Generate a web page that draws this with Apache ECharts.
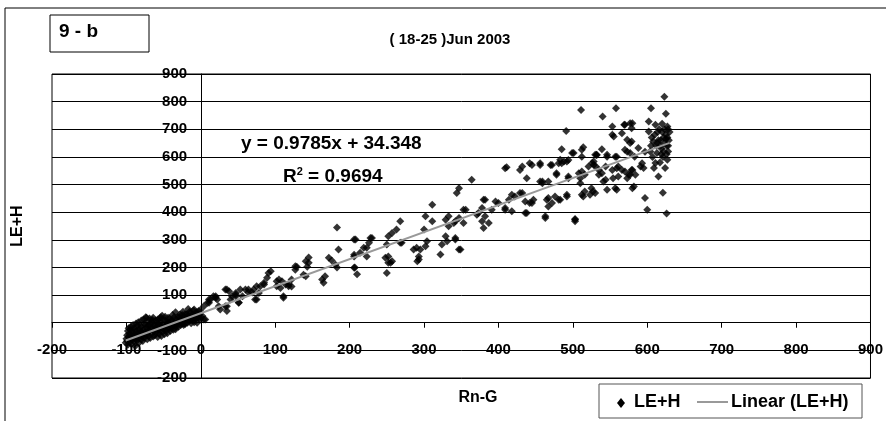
<!DOCTYPE html>
<html>
<head>
<meta charset="utf-8">
<script src="https://cdn.jsdelivr.net/npm/echarts@6/dist/echarts.min.js"></script>
<style>
  html, body { margin: 0; padding: 0; background: #fff; }
  #chart { width: 886px; height: 421px; }
</style>
</head>
<body>
<div id="chart"></div>
<script>
// Rn-G (x) against LE+H (y), W/m2, 18-25 June 2003
const samples = [
  // night-time cluster
  [-101,-72],[-100,-58],[-99,-45],[-99,-66],[-98,-30],[-98,-80],[-97,-52],[-96,-62],[-96,-40],[-95,-70],
  [-95,-25],[-94,-55],[-93,-45],[-93,-78],[-92,-35],[-92,-60],[-91,-50],[-90,-68],[-90,-20],[-89,-42],
  [-88,-58],[-88,-84],[-87,-30],[-86,-50],[-86,-65],[-85,-10],[-85,-40],[-84,-55],[-83,-25],[-83,-72],
  [-82,-45],[-81,-35],[-80,-60],[-80,-15],[-79,-50],[-78,-28],[-78,-66],[-77,-40],[-76,-5],[-76,-55],
  [-75,-32],[-74,20],[-74,-45],[-73,-18],[-72,-60],[-72,-38],[-71,-25],[-70,-48],[-70,5],[-69,-30],
  [-68,-55],[-67,-15],[-66,-40],[-66,-22],[-65,10],[-64,-50],[-63,-30],[-62,-8],[-62,-45],[-61,-20],
  [-60,-35],[-59,0],[-58,-52],[-58,-25],[-57,-10],[-56,-40],[-55,15],[-55,-30],[-54,-18],[-53,-48],
  [-52,25],[-52,-5],[-51,-32],[-50,-20],[-49,-42],[-48,8],[-47,-12],[-46,-28],[-45,-2],[-45,-38],
  [-44,18],[-43,-20],[-42,-8],[-41,-30],[-40,5],[-39,-15],[-38,28],[-37,-25],[-36,0],[-35,-10],
  [-34,38],[-34,-24],[-33,12],[-32,-5],[-31,20],[-30,-15],[-29,5],[-28,30],[-27,-8],[-26,15],
  [-25,-2],[-24,40],[-23,8],[-22,22],[-21,-5],[-20,12],[-19,30],[-18,0],[-17,50],[-16,18],
  [-15,8],[-14,34],[-13,-2],[-12,20],[-11,10],[-10,44],[-9,2],[-8,26],[-7,14],[-6,38],
  [-5,0],[-4,22],[-3,42],[-2,30],[-1,12],[0,20],
  [-97,-20],[-94,-15],[-91,-8],[-89,-28],[-87,-3],[-84,2],[-82,-18],[-80,8],[-79,-35],[-77,12],
  [-75,-8],[-73,18],[-71,-12],[-69,15],[-68,-5],[-66,2],[-64,18],[-63,-12],[-61,8],[-60,-22],
  [-58,12],[-56,-5],[-54,20],[-53,-12],[-51,10],[-49,-25],[-48,22],[-46,-8],[-44,2],[-42,15],
  [-40,-20],[-38,8],[-36,20],[-33,-15],[-31,2],[-29,22],[-27,12],[-25,28],[-23,-8],[-21,32],
  [-19,15],[-17,25],[-15,40],[-13,10],[-11,30],[-9,48],[-7,22],[-5,30],[-3,18],[-1,45],
  // morning / evening
  [2,24],[4,60],[4,12],[6,12],[9,72],[11,72],[11,84],[13,84],[17,96],[20,90],
  [20,96],[22,84],[24,60],[26,48],[33,60],[33,120],[35,120],[35,42],[35,60],[38,114],
  [40,84],[42,96],[47,96],[47,108],[47,102],[51,73],[51,72],[53,120],[56,96],[60,120],
  [64,109],[64,120],[69,109],[71,120],[73,84],[75,132],[75,84],[78,108],[80,132],[85,145],
  [85,138],[89,163],[91,180],[94,186],[102,132],[102,150],[105,156],[107,126],[109,150],[111,96],
  [111,90],[114,138],[118,138],[118,132],[122,156],[122,131],[127,192],[127,204],[129,203],[138,174],
  [141,222],[141,168],[143,203],[145,236],[145,217],[163,156],[165,145],[167,168],[172,235],[176,225],
  [181,210],[183,200],[183,345],[185,265],[206,301],[206,246],[206,199],[207,200],[210,175],[208,301],
  [214,253],[219,271],[223,240],[223,271],[226,289],[228,307],[230,307],[206,240],[248,235],[250,283],
  [250,180],[252,313],[252,240],[252,217],[255,217],[257,325],[257,222],[263,337],[268,367],[268,289],
  [270,289],[286,265],[290,271],[291,222],[293,240],[293,229],[295,265],[300,337],[302,277],[304,295],
  // midday
  [302,385],[311,427],[311,367],[322,247],[324,283],[329,313],[329,373],[331,295],[333,349],[333,385],
  [340,361],[342,307],[342,301],[342,367],[344,469],[347,487],[347,379],[347,265],[349,265],[353,361],
  [353,409],[356,409],[364,517],[371,391],[373,397],[378,367],[378,415],[380,343],[380,445],[382,445],
  [382,385],[387,361],[391,409],[396,439],[400,433],[409,409],[409,415],[409,559],[411,563],[414,445],
  [418,463],[418,403],[422,457],[429,553],[429,469],[432,565],[432,469],[436,439],[436,397],[438,523],
  [438,397],[442,433],[442,577],[445,571],[445,433],[447,445],[456,577],[456,571],[456,511],[459,505],
  [459,511],[463,379],[463,385],[465,445],[467,451],[467,421],[467,511],[470,571],[472,433],[472,571],
  [476,457],[478,541],[478,535],[481,445],[481,577],[483,590],[483,445],[485,577],[485,628],[488,583],
  [491,694],[492,463],[492,457],[492,583],[494,589],[494,529],[494,523],[499,614],[501,614],[503,373],
  [503,375],[503,367],[508,541],[510,505],[510,523],[511,770],[512,547],[512,601],[512,626],[512,463],
  [514,635],[514,457],[516,475],[516,535],[521,565],[523,463],[525,487],[526,578],[527,475],[528,571],
  [528,583],[530,608],[530,469],[531,565],[532,607],[532,608],[535,553],[535,535],[539,628],[539,541],
  [540,746],[541,511],[544,565],[544,517],[546,608],[546,601],[546,481],[553,553],[553,710],[553,680],
  [554,523],[555,674],[557,601],[557,487],[558,776],[559,559],[559,601],[559,481],[561,565],[561,529],
  [566,553],[566,686],[569,716],[570,716],[570,547],[570,626],[573,662],[573,523],[573,619],[575,535],
  [577,722],[577,614],[577,650],[577,535],[579,656],[579,704],[579,553],[580,722],[580,553],[580,487],
  [582,493],[583,601],[584,535],[588,632],[591,565],[593,577],[595,560],[597,619],[597,451],[600,409],
  // peak hours
  [602,728],[602,692],[604,620],[605,776],[605,640],[606,670],[607,600],[608,656],[609,560],[610,680],
  [611,716],[611,578],[612,640],[613,614],[613,650],[614,690],[615,529],[615,660],[616,700],[617,580],
  [618,660],[618,640],[619,630],[619,610],[620,690],[620,720],[621,600],[621,470],[622,670],[622,620],
  [623,818],[623,700],[624,650],[624,560],[625,756],[625,680],[625,665],[626,640],[626,610],[626,395],
  [627,710],[627,590],[627,670],[628,620],[628,700],[628,640],[629,660],[630,690]
];

// Least-squares trend as reported for this period
const slope = 0.9785;
const intercept = 34.348;
const rSquared = 0.9694;

// Axis scale (both axes share it)
const axisMin = -200;
const axisMax = 900;
const axisStep = 100;

// Plot rectangle
const gridLeft = 52, gridTop = 74, gridWidth = 820, gridHeight = 304;

const xs = samples.map(p => p[0]);
const xLo = Math.min(...xs);
const xHi = Math.max(...xs);
const trend = [[xLo, slope * xLo + intercept], [xHi, slope * xHi + intercept]];

// Both axes cross at zero: shift them in from the plot edges
const zeroFrac = (0 - axisMin) / (axisMax - axisMin);
const yAxisShift = -zeroFrac * gridWidth;
const xAxisShift = -zeroFrac * gridHeight;

const FONT = "'Liberation Sans', Arial, sans-serif";

const chart = echarts.init(document.getElementById('chart'), null, { renderer: 'canvas' });

chart.setOption({
  animation: false,
  backgroundColor: '#fff',
  grid: {
    left: gridLeft, top: gridTop, width: gridWidth, height: gridHeight,
    show: true, borderColor: '#000', borderWidth: 1, backgroundColor: '#fff'
  },
  xAxis: {
    type: 'value', min: axisMin, max: axisMax, interval: axisStep,
    position: 'bottom', offset: xAxisShift,
    axisLine: { onZero: false, lineStyle: { color: '#000', width: 1 } },
    axisTick: { show: true, length: 5, lineStyle: { color: '#000' } },
    axisLabel: { margin: 20, color: '#000', fontFamily: FONT, fontWeight: 'bold', fontSize: 15 },
    splitLine: { show: false }
  },
  yAxis: {
    type: 'value', min: axisMin, max: axisMax, interval: axisStep,
    position: 'left', offset: yAxisShift,
    axisLine: { onZero: false, lineStyle: { color: '#000', width: 1 } },
    axisTick: { show: true, length: 5, lineStyle: { color: '#000' } },
    axisLabel: { margin: 14, color: '#000', fontFamily: FONT, fontWeight: 'bold', fontSize: 15 },
    splitLine: { show: true, lineStyle: { color: '#000', width: 1 } }
  },
  series: [
    {
      name: 'LE+H', type: 'scatter', data: samples,
      symbol: 'diamond', symbolSize: 8,
      itemStyle: { color: '#000' }
    },
    {
      name: 'Linear (LE+H)', type: 'line', data: trend,
      symbol: 'none', lineStyle: { color: '#999', width: 2 }, z: 3
    }
  ],
  graphic: [
    // outer chart frame
    { type: 'rect', shape: { x: 5, y: 8, width: 1000, height: 1000 },
      style: { fill: 'none', stroke: '#000', lineWidth: 1 }, silent: true },
    // panel tag
    { type: 'rect', shape: { x: 50, y: 15, width: 99, height: 37 },
      style: { fill: '#fff', stroke: '#000', lineWidth: 1 } },
    { type: 'text', left: 59, top: 22,
      style: { text: '9 - b', fill: '#000', font: "bold 19px " + FONT } },
    // period title
    { type: 'text', x: 450, y: 40,
      style: { text: '( 18-25 )Jun 2003', fill: '#000', font: "bold 15px " + FONT,
               textAlign: 'center', textVerticalAlign: 'middle' } },
    // regression annotation
    { type: 'text', x: 241, y: 144,
      style: { text: 'y = ' + slope + 'x + ' + intercept, fill: '#000', font: "bold 19px " + FONT,
               textVerticalAlign: 'middle' } },
    { type: 'text', x: 283, y: 177,
      style: { text: '{b|R}{s|2}{b| = ' + rSquared + '}', textVerticalAlign: 'middle',
               rich: {
                 b: { fontFamily: FONT, fontWeight: 'bold', fontSize: 19, color: '#000' },
                 s: { fontFamily: FONT, fontWeight: 'bold', fontSize: 11, color: '#000', verticalAlign: 'top', padding: [0, 0, 10, 0] }
               } } },
    // axis names
    { type: 'text', x: 18, y: 226, rotation: Math.PI / 2,
      style: { text: 'LE+H', fill: '#000', font: "bold 16px " + FONT,
               textAlign: 'center', textVerticalAlign: 'middle' } },
    { type: 'text', x: 478, y: 398,
      style: { text: 'Rn-G', fill: '#000', font: "bold 16px " + FONT,
               textAlign: 'center', textVerticalAlign: 'middle' } },
    // legend
    { type: 'rect', shape: { x: 599, y: 384, width: 263, height: 34 },
      style: { fill: '#fff', stroke: '#555', lineWidth: 1 } },
    { type: 'polygon', shape: { points: [[621, 398], [625, 403], [621, 408], [617, 403]] },
      style: { fill: '#000' } },
    { type: 'text', x: 634, y: 402,
      style: { text: 'LE+H', fill: '#000', font: "bold 18px " + FONT, textVerticalAlign: 'middle' } },
    { type: 'line', shape: { x1: 697, y1: 402, x2: 728, y2: 402 },
      style: { stroke: '#999', lineWidth: 2 } },
    { type: 'text', x: 731, y: 402,
      style: { text: 'Linear (LE+H)', fill: '#000', font: "bold 18px " + FONT, textVerticalAlign: 'middle' } }
  ]
});
</script>
</body>
</html>
